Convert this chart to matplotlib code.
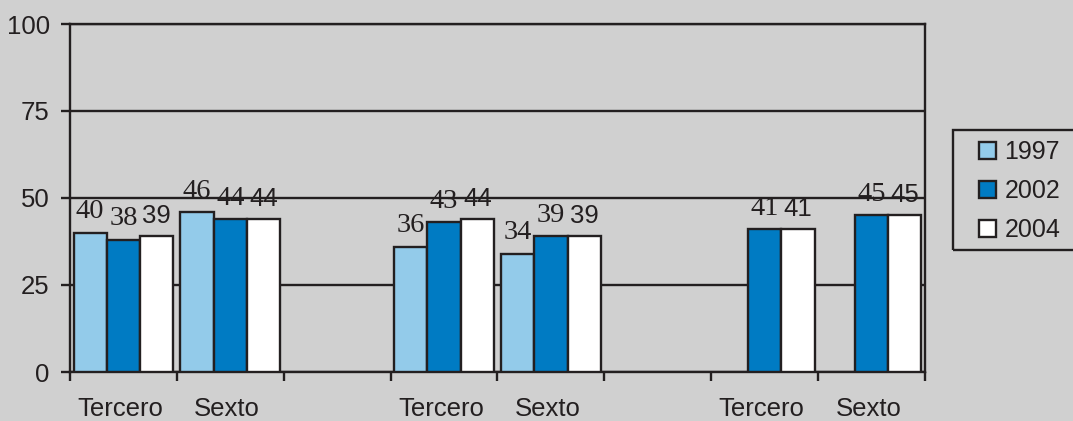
import numpy as np
import matplotlib.pyplot as plt
from matplotlib.patches import Rectangle

# data: three blocks of (Tercero, Sexto), one value per year
grades = ['Tercero', 'Sexto', 'Tercero', 'Sexto', 'Tercero', 'Sexto']
years = ['1997', '2002', '2004']
v1997 = [40, 46, 36, 34, np.nan, np.nan]
v2002 = [38, 44, 43, 39, 41, 45]
v2004 = [39, 44, 44, 39, 41, 45]

bg = '#d0d0d0'
ink = '#231f20'
colors = ['#93cbea', '#007bc3', '#ffffff']
label_fonts = [['Liberation Serif'], ['Liberation Serif'], ['Liberation Sans']]
label_sizes = [20.5, 20.5, 18.5]

W, H = 1073, 421
fig = plt.figure(figsize=(W / 100, H / 100), dpi=100, facecolor=bg)
ax = fig.add_axes([70 / W, 1 - 372 / H, (925 - 70) / W, (372 - 24) / H], facecolor=bg)

# every block takes two slots plus one empty slot
slots = np.array([3 * (i // 2) + i % 2 for i in range(len(grades))]) + 0.5
bw = 0.311

for j, (vals, col) in enumerate(zip([v1997, v2002, v2004], colors)):
    vals = np.array(vals, dtype=float)
    ok = ~np.isnan(vals)
    x = slots[ok] + (j - 1) * bw
    ax.bar(x, vals[ok], width=bw, color=col, edgecolor=ink,
           linewidth=1.7, label=years[j], zorder=3)
    for xi, vi in zip(x, vals[ok]):
        ax.annotate(f'{vi:.0f}', (xi, vi), xytext=(0, 6), textcoords='offset points',
                    ha='center', va='bottom', fontsize=label_sizes[j],
                    family=label_fonts[j], color=ink, zorder=4)

ax.set_xlim(0, 8)
ax.set_ylim(0, 100)
ax.set_yticks([0, 25, 50, 75, 100])
ax.yaxis.grid(True, color=ink, linewidth=1.7, zorder=0)
ax.set_axisbelow(True)

ax.set_xticks(np.arange(0, 9))
ax.set_xticklabels([])
ax.set_xticks(slots - 0.03, minor=True)
ax.set_xticklabels(grades, minor=True)
ax.tick_params(axis='x', which='minor', length=0, pad=18)
ax.tick_params(axis='x', which='major', length=6.5, width=1.7, color=ink)
ax.tick_params(axis='y', length=6.5, width=1.7, color=ink, pad=8)
for lab in ax.get_xticklabels(minor=True) + ax.get_yticklabels():
    lab.set_fontsize(18.5)
    lab.set_family('Liberation Sans')
    lab.set_color(ink)

for sp in ax.spines.values():
    sp.set_color(ink)
    sp.set_linewidth(1.7)

# legend, with its frame running off the right edge as in the source
fig.add_artist(Rectangle((953 / W, 1 - 250 / H), 0.2, 120 / H, transform=fig.transFigure,
                         fill=False, edgecolor=ink, linewidth=1.7))
fig.legend(loc='upper left', bbox_to_anchor=(979 / W, 1 - 140 / H), frameon=False,
           borderpad=0, borderaxespad=0, handlelength=0.66, handleheight=0.66,
           handletextpad=0.36, labelspacing=0.6,
           prop={'family': 'Liberation Sans', 'size': 18}, labelcolor=ink)

fig.savefig('out.png', dpi=100, facecolor=bg)
